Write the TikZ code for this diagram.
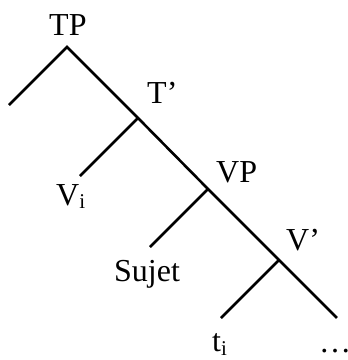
\documentclass[tikz,border=0pt]{standalone}
\usepackage{fontspec}
\setmainfont{Liberation Serif}
\newcommand{\sbi}{\raisebox{-4pt}{\fontsize{21}{21}\selectfont i}}
\begin{document}
\begin{tikzpicture}[x=1pt,y=1pt,
  branch/.style={line width=2.6pt},
  lab/.style={inner sep=0pt, anchor=base west, font=\fontsize{32}{32}\selectfont}]
\useasboundingbox (0,0) rectangle (348,360);
% tree points (y = 360 - pixel y)
\coordinate (tp) at (67,313);
\coordinate (tpl) at (9,255);
\coordinate (tb) at (138,242);
\coordinate (tbl) at (80,184);
\coordinate (vp) at (208,171);
\coordinate (vpl) at (150,113);
\coordinate (vb) at (279,100);
\coordinate (vbl) at (221,42);
\coordinate (vbr) at (337,42);
% connectors
\draw[branch] (tpl) -- (tp) -- (tb) -- (vp) -- (vb) -- (vbr);
\draw[branch] (tb) -- (tbl);
\draw[branch] (vp) -- (vpl);
\draw[branch] (vb) -- (vbl);
% labels
\node[lab] (lTP) at (49,325) {TP};
\node[lab] (lTb) at (147,257) {T’};
\node[lab] (lVi) at (56,155) {V\sbi};
\node[lab] (lVP) at (216,178) {VP};
\node[lab] (lSu) at (114,78) {Sujet};
\node[lab] (lVb) at (286,110) {V’};
\node[lab] (lti) at (212,9) {t\sbi};
\node[lab] (ldots) at (319,8) {…};
\end{tikzpicture}
\end{document}
